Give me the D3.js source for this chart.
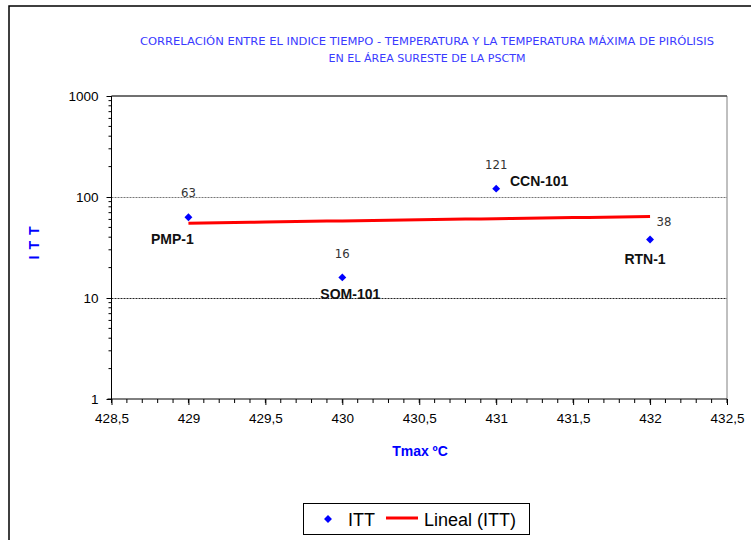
<!DOCTYPE html>
<html><head><meta charset="utf-8">
<script src="https://cdn.jsdelivr.net/npm/d3@7"></script>
<style>body{margin:0;background:#fff}svg{display:block}</style>
</head><body>
<script>
const wells = ["PMP-1", "SOM-101", "CCN-101", "RTN-1"];
const tmax = [429, 430, 431, 432];
const itt = [63, 16, 121, 38];
const xTicks = [428.5, 429, 429.5, 430, 430.5, 431, 431.5, 432, 432.5];
const yTicks = [1, 10, 100, 1000];
const titleLines = ["CORRELACIÓN ENTRE EL INDICE TIEMPO - TEMPERATURA Y LA TEMPERATURA MÁXIMA DE PIRÓLISIS", "EN EL ÁREA SURESTE DE LA PSCTM"];

const W = 751, H = 540;
const m = {left: 111.5, top: 96, right: 727, bottom: 399};
const svg = d3.select("body").append("svg").attr("width", W).attr("height", H);

// outer chart border
svg.append("rect").attr("x", 9).attr("y", 6).attr("width", 900).attr("height", 700)
  .attr("fill", "none").attr("stroke", "#000").attr("stroke-width", 1.5);

const x = d3.scaleLinear().domain([428.5, 432.5]).range([m.left, m.right]);
const y = d3.scaleLog().domain([1, 1000]).range([m.bottom, m.top]);

// title
svg.append("g").selectAll("text").data(titleLines).join("text")
  .attr("x", 427).attr("y", (d, i) => 45 + i * 17)
  .attr("text-anchor", "middle").attr("fill", "#3a3aff")
  .attr("font-family", "'DejaVu Sans', sans-serif").attr("font-size", 11)
  .attr("textLength", (d, i) => i === 0 ? 574 : 197).attr("lengthAdjust", "spacingAndGlyphs")
  .text(d => d);

// gridlines
svg.append("g").selectAll("line").data([10, 100]).join("line")
  .attr("x1", m.left).attr("x2", m.right).attr("y1", d => Math.round(y(d)) + 0.5).attr("y2", d => Math.round(y(d)) + 0.5)
  .attr("stroke", (d) => d === 100 ? "#777" : "#222").attr("stroke-width", 1).attr("stroke-dasharray", "2,1");

// plot border (top/right)
svg.append("path").attr("d", `M${m.left},${m.top}H${m.right}V${m.bottom}`)
  .attr("fill", "none").attr("stroke", "#808080").attr("stroke-width", 1);
svg.append("line").attr("x1", m.left).attr("x2", m.right).attr("y1", m.top).attr("y2", m.top).attr("stroke", "#222").attr("stroke-width", 1.2);

// y axis
const yMinor = [];
for (let e = 0; e < 3; e++) for (let k = 2; k <= 9; k++) yMinor.push(k * Math.pow(10, e));
const yAx = svg.append("g").attr("transform", `translate(${m.left},0)`);
yAx.selectAll("line.minor").data(yMinor).join("line").attr("class", "minor")
  .attr("x1", -3).attr("x2", 0).attr("y1", d => y(d)).attr("y2", d => y(d)).attr("stroke", "#000");
yAx.call(d3.axisLeft(y).tickValues(yTicks).tickFormat(d3.format("d")).tickSize(5).tickPadding(8))
  .call(g => g.select(".domain").attr("d", `M0,${m.top}V${m.bottom}`).attr("stroke", "#000"))
  .call(g => g.selectAll("text").attr("font-family", "'Liberation Sans', Arial, sans-serif").attr("font-size", 13.5).attr("fill", "#000"));

// x axis
const xMinor = d3.range(4285, 4326).map(d => d / 10);
const xAx = svg.append("g").attr("transform", `translate(0,${m.bottom})`);
xAx.selectAll("line.minor").data(xMinor).join("line").attr("class", "minor")
  .attr("x1", d => x(d)).attr("x2", d => x(d)).attr("y1", 0).attr("y2", 4).attr("stroke", "#000");
xAx.call(d3.axisBottom(x).tickValues(xTicks).tickFormat(d => String(d).replace(".", ",")).tickSize(6).tickPadding(8))
  .call(g => g.select(".domain").attr("d", `M${m.left - 4},0H${m.right}`).attr("stroke", "#000"))
  .call(g => g.selectAll("text").attr("font-family", "'Liberation Sans', Arial, sans-serif").attr("font-size", 13.5).attr("fill", "#000"));

// axis titles
svg.append("text").attr("x", 420).attr("y", 456).attr("text-anchor", "middle")
  .attr("font-family", "'Liberation Sans', Arial, sans-serif").attr("font-weight", "bold").attr("font-size", 14)
  .attr("fill", "#0000ff").text("Tmax ºC");
svg.append("text").attr("transform", "translate(39,240) rotate(-90)").attr("text-anchor", "middle")
  .attr("font-family", "'Liberation Sans', Arial, sans-serif").attr("font-weight", "bold").attr("font-size", 14)
  .attr("letter-spacing", 6).attr("fill", "#0000ff").text("ITT");

// trendline (linear regression)
const mx = d3.mean(tmax), my = d3.mean(itt);
const slope = d3.sum(tmax, (d, i) => (d - mx) * (itt[i] - my)) / d3.sum(tmax, d => (d - mx) ** 2);
const icpt = my - slope * mx;
const tx = d3.range(0, 31).map(i => 429 + i * 0.1);
svg.append("path").datum(tx)
  .attr("d", d3.line().x(d => x(d)).y(d => y(icpt + slope * d)))
  .attr("fill", "none").attr("stroke", "#ff0000").attr("stroke-width", 3);

// points
const diamond = d3.symbol().type(d3.symbolDiamond2).size(40);
svg.append("g").selectAll("path").data(tmax).join("path")
  .attr("transform", (d, i) => `translate(${x(d)},${y(itt[i])})`)
  .attr("d", diamond).attr("fill", "#0000ff");

// value labels
const valOff = [[0, -20], [0, -19], [0, -20], [14, -13]];
svg.append("g").selectAll("text").data(itt).join("text")
  .attr("x", (d, i) => x(tmax[i]) + valOff[i][0]).attr("y", (d, i) => y(d) + valOff[i][1])
  .attr("text-anchor", "middle").attr("font-family", "'Liberation Sans Narrow', 'Arial Narrow', 'DejaVu Sans Condensed', sans-serif")
  .attr("font-size", 13).attr("fill", "#333").text(d => d);

// name labels
const nameOff = [[-16, 27], [8, 22], [43, -3], [-5, 25]];
svg.append("g").selectAll("text").data(wells).join("text")
  .attr("x", (d, i) => x(tmax[i]) + nameOff[i][0]).attr("y", (d, i) => y(itt[i]) + nameOff[i][1])
  .attr("text-anchor", "middle").attr("font-family", "'Liberation Sans', Arial, sans-serif")
  .attr("font-weight", "bold").attr("font-size", 14).attr("fill", "#111").text(d => d);

// legend
const lg = svg.append("g");
lg.append("rect").attr("x", 303.5).attr("y", 503.5).attr("width", 226).attr("height", 31)
  .attr("fill", "#fff").attr("stroke", "#000").attr("stroke-width", 1);
lg.append("path").attr("transform", "translate(328,519)").attr("d", diamond).attr("fill", "#0000ff");
lg.append("text").attr("x", 348).attr("y", 526).attr("font-family", "'Liberation Sans', Arial, sans-serif")
  .attr("font-size", 18).attr("fill", "#000").text("ITT");
lg.append("line").attr("x1", 386).attr("x2", 418).attr("y1", 518).attr("y2", 518).attr("stroke", "#ff0000").attr("stroke-width", 3);
lg.append("text").attr("x", 424).attr("y", 526).attr("font-family", "'Liberation Sans', Arial, sans-serif")
  .attr("font-size", 18).attr("fill", "#000").text("Lineal (ITT)");
</script>
</body></html>
